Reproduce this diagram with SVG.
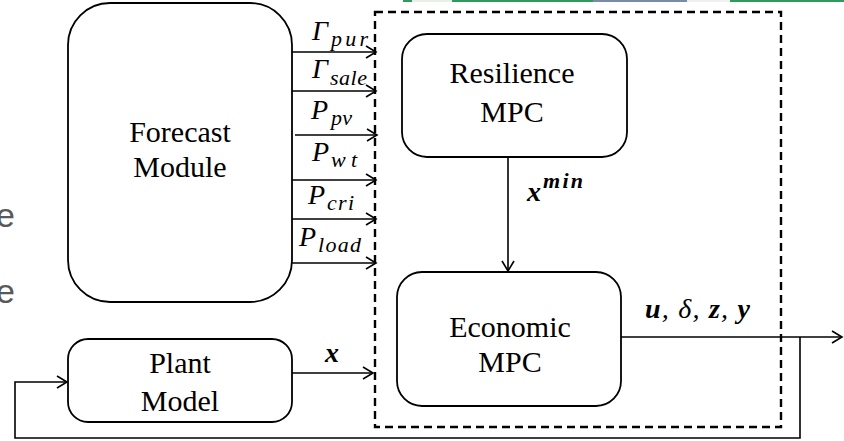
<svg xmlns="http://www.w3.org/2000/svg" width="844" height="441" viewBox="0 0 844 441">
<defs>
<marker id="ah" markerUnits="userSpaceOnUse" markerWidth="14" markerHeight="16" viewBox="-12 -8 14 16" refX="0" refY="0" orient="auto">
<path d="M-10,-6 L0,0 L-10,6" fill="none" stroke="#000" stroke-width="1.6"/>
</marker>
</defs>
<rect width="844" height="441" fill="#fff"/>
<g font-family="Liberation Serif">
<g id="background">
<rect x="403" y="0" width="441" height="2" fill="#2e9a5c"/>
<rect x="412" y="0" width="40" height="2" fill="#e8efe9"/>
<rect x="593" y="0" width="94" height="2" fill="#7b8aa8"/>
<rect x="687" y="0" width="43" height="2" fill="#eef1ee"/>
<text x="-4" y="227" font-family="Liberation Sans" font-size="34" fill="#595959">e</text>
<text x="-4" y="303" font-family="Liberation Sans" font-size="34" fill="#595959">e</text>
</g>
<g id="mpc-frame">
<rect x="375" y="12" width="406" height="415" fill="none" stroke="#000" stroke-width="2.4" stroke-dasharray="8 5"/>
</g>
<g id="forecast">
<rect x="68" y="3" width="224" height="299" rx="42" fill="#fff" stroke="#000" stroke-width="1.8"/>
<text x="180" y="142" font-size="30" text-anchor="middle">Forecast</text>
<text x="180" y="177" font-size="30" text-anchor="middle">Module</text>
</g>
<g id="plant">
<rect x="68" y="339" width="224" height="83" rx="20" fill="#fff" stroke="#000" stroke-width="1.8"/>
<text x="180" y="373" font-size="30" text-anchor="middle">Plant</text>
<text x="180" y="411" font-size="30" text-anchor="middle">Model</text>
</g>
<g id="resilience">
<rect x="402" y="34" width="225" height="123" rx="25" fill="#fff" stroke="#000" stroke-width="1.8"/>
<text x="512" y="83" font-size="30" text-anchor="middle">Resilience</text>
<text x="512" y="122" font-size="30" text-anchor="middle">MPC</text>
</g>
<g id="economic">
<rect x="397" y="272" width="224" height="134" rx="25" fill="#fff" stroke="#000" stroke-width="1.8"/>
<text x="510" y="337" font-size="30" text-anchor="middle">Economic</text>
<text x="510" y="372" font-size="30" text-anchor="middle">MPC</text>
</g>
<g id="connectors" fill="none" stroke="#000" stroke-width="1.6">
<path d="M292,52 H376" marker-end="url(#ah)"/>
<path d="M292,91 H376" marker-end="url(#ah)"/>
<path d="M295,135 H377" marker-end="url(#ah)"/>
<path d="M292,180 H376" marker-end="url(#ah)"/>
<path d="M292,219 H376" marker-end="url(#ah)"/>
<path d="M292,263 H376" marker-end="url(#ah)"/>
<path d="M508,157 V271" marker-end="url(#ah)"/>
<path d="M621,337 H842" marker-end="url(#ah)"/>
<path d="M800,337 V438 H15 V382 H67" marker-end="url(#ah)"/>
<path d="M292,373 H373" marker-end="url(#ah)"/>
</g>
<g id="labels" fill="#000" font-style="italic">
<text x="312" y="40" font-size="28">Γ</text><text x="331" y="46" font-size="22" textLength="37" lengthAdjust="spacing">pur</text>
<text x="312" y="78" font-size="28">Γ</text><text x="330" y="85" font-size="22" textLength="37" lengthAdjust="spacing">sale</text>
<text x="311" y="119" font-size="28">P</text><text x="331" y="125" font-size="22" textLength="21" lengthAdjust="spacing">pv</text>
<text x="312" y="161" font-size="28">P</text><text x="331" y="167" font-size="22" textLength="26" lengthAdjust="spacing">wt</text>
<text x="308" y="204" font-size="28">P</text><text x="327" y="210" font-size="22" textLength="27" lengthAdjust="spacing">cri</text>
<text x="299" y="246" font-size="28">P</text><text x="318" y="252" font-size="22" textLength="43" lengthAdjust="spacing">load</text>
<text x="527" y="201" font-size="28" font-weight="bold">x</text><text x="543" y="188" font-size="22" font-weight="bold" textLength="40" lengthAdjust="spacing">min</text>
<text x="645" y="318" font-size="28" textLength="105" lengthAdjust="spacing"><tspan font-weight="bold">u</tspan>, δ, <tspan font-weight="bold">z</tspan>, <tspan font-weight="bold">y</tspan></text>
<text x="325" y="362" font-size="28" font-weight="bold">x</text>
</g>
</g>
</svg>
